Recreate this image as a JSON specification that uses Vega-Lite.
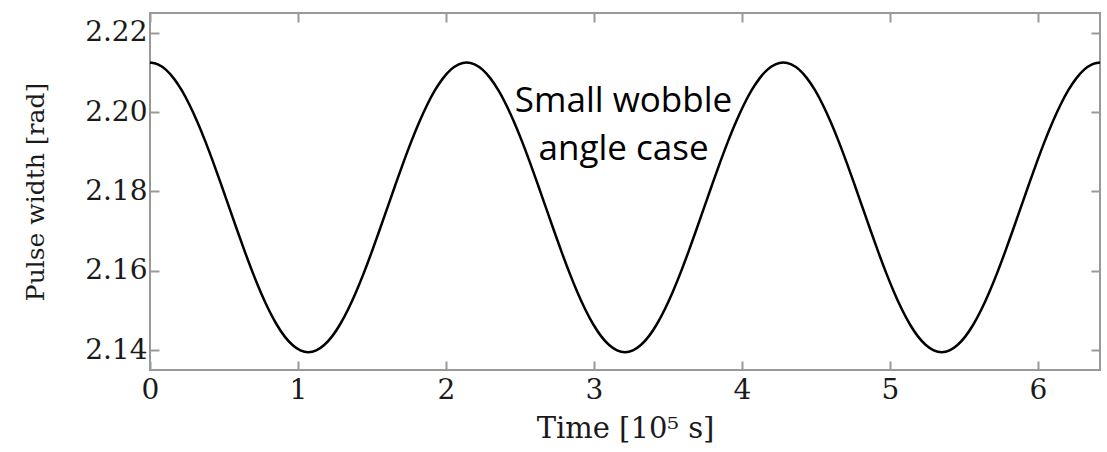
{
  "$schema": "https://vega.github.io/schema/vega-lite/v6.json",
  "width": 950,
  "height": 357,
  "autosize": {"type": "none"},
  "padding": {"left": 150, "top": 13, "right": 7, "bottom": 82},
  "background": "white",
  "config": {
    "view": {"stroke": "#999999", "strokeWidth": 2},
    "axis": {
      "domain": false,
      "grid": false,
      "ticks": true,
      "tickColor": "#999999",
      "tickWidth": 2,
      "tickSize": -9,
      "labelFlush": false,
      "labelOverlap": false,
      "labelFont": "DejaVu Serif",
      "labelFontSize": 28,
      "labelColor": "#1a1a1a",
      "titleFont": "DejaVu Serif",
      "titleFontSize": 25,
      "titleFontWeight": "normal",
      "titleColor": "#1a1a1a"
    }
  },
  "datasets": {
    "pulse": [
      {"t": 0, "w": 2.2125}, {"t": 0.0535, "w": 2.21205}, {"t": 0.107, "w": 2.21071}, {"t": 0.1605, "w": 2.20852},
      {"t": 0.214, "w": 2.20553}, {"t": 0.2675, "w": 2.20181}, {"t": 0.321, "w": 2.19745}, {"t": 0.3745, "w": 2.19257},
      {"t": 0.428, "w": 2.18728}, {"t": 0.4815, "w": 2.18171}, {"t": 0.535, "w": 2.176}, {"t": 0.5885, "w": 2.17029},
      {"t": 0.642, "w": 2.16472}, {"t": 0.6955, "w": 2.15943}, {"t": 0.749, "w": 2.15455}, {"t": 0.8025, "w": 2.15019},
      {"t": 0.856, "w": 2.14647}, {"t": 0.9095, "w": 2.14348}, {"t": 0.963, "w": 2.14129}, {"t": 1.0165, "w": 2.13995},
      {"t": 1.07, "w": 2.1395}, {"t": 1.1235, "w": 2.13995}, {"t": 1.177, "w": 2.14129}, {"t": 1.2305, "w": 2.14348},
      {"t": 1.284, "w": 2.14647}, {"t": 1.3375, "w": 2.15019}, {"t": 1.391, "w": 2.15455}, {"t": 1.4445, "w": 2.15943},
      {"t": 1.498, "w": 2.16472}, {"t": 1.5515, "w": 2.17029}, {"t": 1.605, "w": 2.176}, {"t": 1.6585, "w": 2.18171},
      {"t": 1.712, "w": 2.18728}, {"t": 1.7655, "w": 2.19257}, {"t": 1.819, "w": 2.19745}, {"t": 1.8725, "w": 2.20181},
      {"t": 1.926, "w": 2.20553}, {"t": 1.9795, "w": 2.20852}, {"t": 2.033, "w": 2.21071}, {"t": 2.0865, "w": 2.21205},
      {"t": 2.14, "w": 2.2125}, {"t": 2.1935, "w": 2.21205}, {"t": 2.247, "w": 2.21071}, {"t": 2.3005, "w": 2.20852},
      {"t": 2.354, "w": 2.20553}, {"t": 2.4075, "w": 2.20181}, {"t": 2.461, "w": 2.19745}, {"t": 2.5145, "w": 2.19257},
      {"t": 2.568, "w": 2.18728}, {"t": 2.6215, "w": 2.18171}, {"t": 2.675, "w": 2.176}, {"t": 2.7285, "w": 2.17029},
      {"t": 2.782, "w": 2.16472}, {"t": 2.8355, "w": 2.15943}, {"t": 2.889, "w": 2.15455}, {"t": 2.9425, "w": 2.15019},
      {"t": 2.996, "w": 2.14647}, {"t": 3.0495, "w": 2.14348}, {"t": 3.103, "w": 2.14129}, {"t": 3.1565, "w": 2.13995},
      {"t": 3.21, "w": 2.1395}, {"t": 3.2635, "w": 2.13995}, {"t": 3.317, "w": 2.14129}, {"t": 3.3705, "w": 2.14348},
      {"t": 3.424, "w": 2.14647}, {"t": 3.4775, "w": 2.15019}, {"t": 3.531, "w": 2.15455}, {"t": 3.5845, "w": 2.15943},
      {"t": 3.638, "w": 2.16472}, {"t": 3.6915, "w": 2.17029}, {"t": 3.745, "w": 2.176}, {"t": 3.7985, "w": 2.18171},
      {"t": 3.852, "w": 2.18728}, {"t": 3.9055, "w": 2.19257}, {"t": 3.959, "w": 2.19745}, {"t": 4.0125, "w": 2.20181},
      {"t": 4.066, "w": 2.20553}, {"t": 4.1195, "w": 2.20852}, {"t": 4.173, "w": 2.21071}, {"t": 4.2265, "w": 2.21205},
      {"t": 4.28, "w": 2.2125}, {"t": 4.3335, "w": 2.21205}, {"t": 4.387, "w": 2.21071}, {"t": 4.4405, "w": 2.20852},
      {"t": 4.494, "w": 2.20553}, {"t": 4.5475, "w": 2.20181}, {"t": 4.601, "w": 2.19745}, {"t": 4.6545, "w": 2.19257},
      {"t": 4.708, "w": 2.18728}, {"t": 4.7615, "w": 2.18171}, {"t": 4.815, "w": 2.176}, {"t": 4.8685, "w": 2.17029},
      {"t": 4.922, "w": 2.16472}, {"t": 4.9755, "w": 2.15943}, {"t": 5.029, "w": 2.15455}, {"t": 5.0825, "w": 2.15019},
      {"t": 5.136, "w": 2.14647}, {"t": 5.1895, "w": 2.14348}, {"t": 5.243, "w": 2.14129}, {"t": 5.2965, "w": 2.13995},
      {"t": 5.35, "w": 2.1395}, {"t": 5.4035, "w": 2.13995}, {"t": 5.457, "w": 2.14129}, {"t": 5.5105, "w": 2.14348},
      {"t": 5.564, "w": 2.14647}, {"t": 5.6175, "w": 2.15019}, {"t": 5.671, "w": 2.15455}, {"t": 5.7245, "w": 2.15943},
      {"t": 5.778, "w": 2.16472}, {"t": 5.8315, "w": 2.17029}, {"t": 5.885, "w": 2.176}, {"t": 5.9385, "w": 2.18171},
      {"t": 5.992, "w": 2.18728}, {"t": 6.0455, "w": 2.19257}, {"t": 6.099, "w": 2.19745}, {"t": 6.1525, "w": 2.20181},
      {"t": 6.206, "w": 2.20553}, {"t": 6.2595, "w": 2.20852}, {"t": 6.313, "w": 2.21071}, {"t": 6.3665, "w": 2.21205},
      {"t": 6.42, "w": 2.2125}
    ],
    "note": [
      {"t": 3.2, "w": 2.2, "label": "Small wobble\nangle case"}
    ]
  },
  "resolve": {"axis": {"x": "independent", "y": "independent"}},
  "layer": [
    {
      "data": {"name": "pulse"},
      "mark": {"type": "line", "color": "#000000", "strokeWidth": 2.5, "interpolate": "monotone"},
      "encoding": {
        "x": {
          "field": "t", "type": "quantitative",
          "scale": {"domain": [0, 6.42], "nice": false, "zero": false},
          "axis": {"orient": "bottom", "values": [0, 1, 2, 3, 4, 5, 6], "format": "d", "labelPadding": 15, "title": "Time [10⁵ s]", "titleFontSize": 29, "titlePadding": 10}
        },
        "y": {
          "field": "w", "type": "quantitative",
          "scale": {"domain": [2.135, 2.225], "nice": false, "zero": false},
          "axis": {"orient": "left", "values": [2.14, 2.16, 2.18, 2.2, 2.22], "format": ".2f", "labelPadding": 12, "title": "Pulse width [rad]", "titlePadding": 36}
        }
      }
    },
    {
      "data": {"name": "pulse"},
      "mark": {"type": "line", "opacity": 0},
      "encoding": {
        "x": {
          "field": "t", "type": "quantitative",
          "scale": {"domain": [0, 6.42], "nice": false, "zero": false},
          "axis": {"orient": "top", "values": [0, 1, 2, 3, 4, 5, 6], "labels": false, "title": null}
        },
        "y": {
          "field": "w", "type": "quantitative",
          "scale": {"domain": [2.135, 2.225], "nice": false, "zero": false},
          "axis": {"orient": "right", "values": [2.14, 2.16, 2.18, 2.2, 2.22], "labels": false, "title": null}
        }
      }
    },
    {
      "data": {"name": "note"},
      "mark": {"type": "text", "font": "Open Sans", "fontSize": 35, "lineHeight": 48, "lineBreak": "\n", "align": "center", "baseline": "alphabetic", "color": "#000000"},
      "encoding": {
        "x": {"field": "t", "type": "quantitative", "axis": null},
        "y": {"field": "w", "type": "quantitative", "axis": null},
        "text": {"field": "label", "type": "nominal"}
      }
    }
  ]
}
